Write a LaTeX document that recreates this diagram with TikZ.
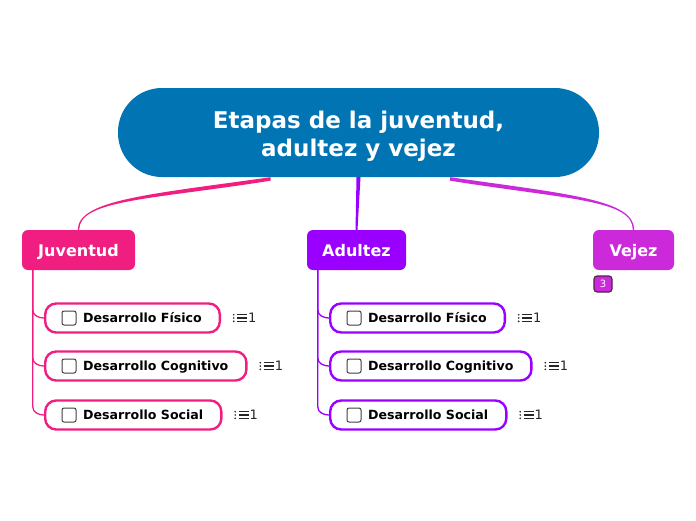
\documentclass[tikz,border=0pt]{standalone}
\usepackage{fontspec}
\setmainfont{DejaVu Sans}
\usepackage{xcolor}
\definecolor{raiz}{RGB}{1,117,179}
\definecolor{juvcol}{RGB}{241,30,130}
\definecolor{aducol}{RGB}{153,0,255}
\definecolor{vejcol}{RGB}{204,41,219}
\definecolor{borde}{RGB}{75,35,70}
\usetikzlibrary{calc,positioning}

\begin{document}
\begin{tikzpicture}[x=1pt,y=1pt,
    etapa/.style={rounded corners=6pt,text=white,inner sep=0pt,minimum height=40pt,
      text height=12pt,text depth=0pt,font=\bfseries\fontsize{16}{18}\selectfont},
    hijo/.style={line width=2.4pt,fill=white,rounded corners=11pt,minimum height=29pt,
      inner ysep=0pt,inner xsep=18pt,text height=9pt,text depth=0pt,
      font=\bfseries\fontsize{12.6}{14}\selectfont},
    caja/.style={draw=black!75,line width=1pt,fill=white,rounded corners=2pt,
      minimum size=14pt,inner sep=0pt},
    cuenta/.style={inner sep=0pt,font=\fontsize{13}{15}\selectfont,text=black!85},
    rama/.style={line width=1.3pt}]
  \useasboundingbox (0,0) rectangle (696,-520);
  % nodos principales
  \node[fill=raiz,rounded corners=44pt,minimum width=481pt,minimum height=89pt,inner sep=0pt]
    (raiz) at (358.5,-132.5) {};
  \node[text=white,align=center,inner sep=0pt,font=\bfseries\fontsize{23}{28}\selectfont]
    (raiz-t) at ([yshift=-3.5pt]raiz.center) {Etapas de la juventud,\\adultez y vejez};
  \node[etapa,fill=juvcol,minimum width=113pt] (juv) at (78.5,-250) {Juventud};
  \node[etapa,fill=aducol,minimum width=99pt] (adu) at (356.5,-250) {Adultez};
  \node[etapa,fill=vejcol,minimum width=81pt] (vej) at (633.5,-250) {Vejez};
  \node[fill=vejcol,draw=borde,line width=1.1pt,rounded corners=3pt,minimum width=18pt,
    minimum height=16pt,inner sep=0pt,text=white,font=\fontsize{10}{11}\selectfont]
    (vej-n) at (603,-284) {3};
  % conectores desde la raiz
  \fill[juvcol] ([xshift=-88pt]raiz.south) .. controls +(-120,-17) and +(0,30) ..
    ([xshift=-0.7pt]juv.north) -- ([xshift=0.7pt]juv.north) .. controls +(0,30) and +(-120,-19) ..
    ([xshift=-88pt,yshift=-3.5pt]raiz.south) -- cycle;
  \fill[aducol] ([xshift=-2pt]raiz.south) -- ([xshift=2pt]raiz.south) -- ([xshift=1pt]adu.north)
    -- ([xshift=-1pt]adu.north) -- cycle;
  \fill[vejcol] ([xshift=91.5pt]raiz.south) .. controls +(120,-17) and +(0,30) ..
    ([xshift=0.7pt]vej.north) -- ([xshift=-0.7pt]vej.north) .. controls +(0,30) and +(120,-19) ..
    ([xshift=91.5pt,yshift=-3.5pt]raiz.south) -- cycle;
  % subtemas
  \foreach \br/\col/\x in {juv/juvcol/44,adu/aducol/329}{
    \foreach \k/\lab/\y in {f/Desarrollo Físico/318,c/Desarrollo Cognitivo/366,s/Desarrollo Social/415}{
      \coordinate (\br\k-a) at ([xshift=11pt]\br.south west |- 0,-\y);
      \draw[rama,\col] ([xshift=11pt]\br.south west) -- ([yshift=8pt]\br\k-a)
        to[out=-90,in=180] (\x,-\y);
      \node[hijo,draw=\col,anchor=west] (\br\k) at (\x,-\y) {\hspace*{20pt}\lab};
      \node[caja] (\br\k-chk) at ([xshift=25pt]\br\k.west) {};
      \node[cuenta,anchor=west] (\br\k-n) at ([xshift=27pt]\br\k.east) {1};
      \foreach \d in {-3.3,0,3.3}{
        \fill[black!85] ([xshift=12.7pt,yshift=\d pt]\br\k.east) circle (0.95pt);
        \draw[black!85,line width=1.2pt] ([xshift=16pt,yshift=\d pt]\br\k.east) -- ++(10,0);
      }
    }
  }
\end{tikzpicture}
\end{document}
